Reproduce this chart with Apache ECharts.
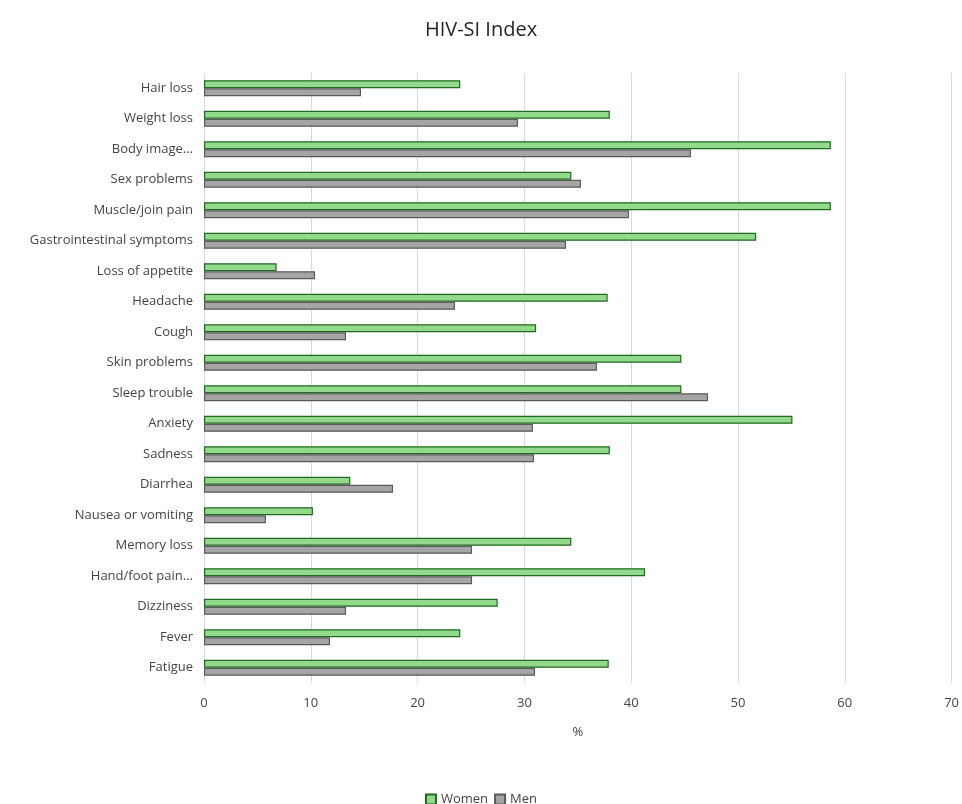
<!DOCTYPE html>
<html>
<head>
<meta charset="utf-8">
<script src="https://cdn.jsdelivr.net/npm/echarts@6/dist/echarts.min.js"></script>
<style>
html,body{margin:0;padding:0;background:#fff;}
#main{width:962px;height:804px;}
</style>
</head>
<body>
<div id="main"></div>
<script>
// categories top -> bottom
var categories = ['Hair loss', 'Weight loss', 'Body image...', 'Sex problems', 'Muscle/join pain',
    'Gastrointestinal symptoms', 'Loss of appetite', 'Headache', 'Cough', 'Skin problems',
    'Sleep trouble', 'Anxiety', 'Sadness', 'Diarrhea', 'Nausea or vomiting', 'Memory loss',
    'Hand/foot pain...', 'Dizziness', 'Fever', 'Fatigue'];
var women = [24.0, 38.0, 58.7, 34.4, 58.7, 51.7, 6.8, 37.8, 31.1, 44.7,
    44.7, 55.1, 38.0, 13.7, 10.2, 34.4, 41.3, 27.5, 24.0, 37.9];
var men = [14.7, 29.4, 45.6, 35.3, 39.8, 33.9, 10.4, 23.5, 13.3, 36.8,
    47.2, 30.8, 30.9, 17.7, 5.8, 25.1, 25.1, 13.3, 11.8, 31.0];
var xTicks = [0, 10, 20, 30, 40, 50, 60, 70];

var fontFam = '"Open Sans", "Liberation Sans", sans-serif';

var option = {
    animation: false,
    title: {
        text: 'HIV-SI Index',
        left: 'center',
        top: 15,
        textStyle: {fontFamily: fontFam, fontSize: 20, fontWeight: 'normal', color: '#262626'}
    },
    legend: {
        top: 788,
        left: 'center',
        icon: 'rect',
        itemWidth: 10,
        itemHeight: 10,
        itemGap: 6,
        textStyle: {fontFamily: fontFam, fontSize: 13, color: '#444'},
        data: ['Women', 'Men']
    },
    grid: {left: 204, right: 10, top: 73, bottom: 121},
    xAxis: {
        type: 'value',
        min: xTicks[0],
        max: xTicks[xTicks.length - 1],
        interval: 10,
        name: '%',
        nameLocation: 'middle',
        nameGap: 43,
        nameTextStyle: {fontFamily: fontFam, fontSize: 13, color: '#444'},
        axisLine: {show: false},
        axisTick: {show: false},
        axisLabel: {fontFamily: fontFam, fontSize: 13, color: '#444', margin: 14},
        splitLine: {show: true, lineStyle: {color: '#d9d9d9', width: 1}}
    },
    yAxis: {
        type: 'category',
        inverse: true,
        data: categories,
        axisLine: {show: false},
        axisTick: {show: false},
        axisLabel: {fontFamily: fontFam, fontSize: 13, color: '#444', margin: 11}
    },
    series: [
        {
            name: 'Women',
            type: 'bar',
            barWidth: 8,
            barGap: '0%',
            itemStyle: {color: '#92d98b', borderColor: '#1f6a1f', borderWidth: 1.2},
            data: women
        },
        {
            name: 'Men',
            type: 'bar',
            barWidth: 8,
            barGap: '0%',
            itemStyle: {color: '#a5a5a5', borderColor: '#5a5a5a', borderWidth: 1.2},
            data: men
        }
    ]
};

var myChart = echarts.init(document.getElementById('main'));
myChart.setOption(option);
</script>
</body>
</html>
